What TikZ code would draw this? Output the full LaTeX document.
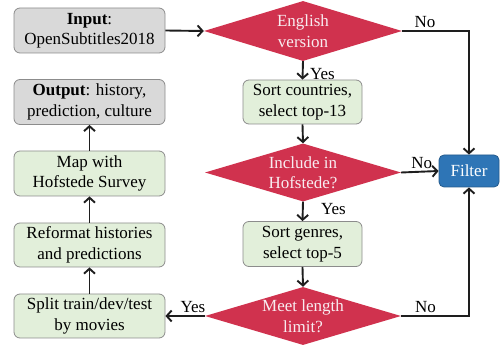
\documentclass[tikz,border=0pt]{standalone}
\usepackage{fontspec}
\setmainfont{Liberation Serif}
\usetikzlibrary{shapes.geometric,arrows.meta}
\definecolor{dred}{RGB}{208,50,78}
\definecolor{fblue}{RGB}{46,117,182}
\definecolor{fblueline}{RGB}{36,90,140}
\definecolor{gfill}{RGB}{226,239,218}
\definecolor{grayfill}{RGB}{217,217,217}
\definecolor{boxline}{RGB}{140,140,140}
\definecolor{darkline}{RGB}{30,30,30}
\definecolor{dtext}{RGB}{248,236,240}
\begin{document}
\begin{tikzpicture}[x=1pt,y=-1pt,
  txt/.style={font=\fontsize{17}{20.5}\selectfont},
  box/.style={txt, draw=boxline, rounded corners=6pt, line width=0.8pt, align=center, inner sep=0pt},
  greenbox/.style={box, fill=gfill},
  graybox/.style={box, fill=grayfill},
  dec/.style={txt, diamond, fill=dred, text=dtext, aspect=3.3, inner sep=0pt, align=center},
  filt/.style={txt, draw=fblueline, fill=fblue, text=white, rounded corners=5pt, line width=0.8pt, inner sep=0pt},
  arr/.style={-{Straight Barb[length=5pt,width=11pt]}, line width=1.9pt, draw=darkline},
  lab/.style={txt, text=black}
]
\useasboundingbox (0,0) rectangle (501,347);

\node[graybox, minimum width=151pt, minimum height=45pt] (in) at (89.5,30.5) {\textbf{Input}:\\OpenSubtitles2018};
\node[graybox, minimum width=151pt, minimum height=45pt] (out) at (89.5,102) {\textbf{Output}: history,\\prediction, culture};
\node[greenbox, minimum width=151pt, minimum height=45pt] (map) at (89.5,173.5) {Map with\\Hofstede Survey};
\node[greenbox, minimum width=151pt, minimum height=44pt] (ref) at (89.5,245) {Reformat histories\\and predictions};
\node[greenbox, minimum width=151pt, minimum height=44pt] (spl) at (89.5,316) {Split train/dev/test\\by movies};

\node[dec, minimum width=198pt, minimum height=60pt] (d1) at (303,31) {English\\version};
\node[greenbox, minimum width=119pt, minimum height=44pt] (sc) at (302.5,102) {Sort countries,\\select top-13};
\node[dec, minimum width=196pt, minimum height=58pt] (d2) at (303,172.5) {Include in\\Hofstede?};
\node[greenbox, minimum width=119pt, minimum height=45pt] (sg) at (302.5,244) {Sort genres,\\select top-5};
\node[dec, minimum width=196pt, minimum height=58pt] (d3) at (303,316) {Meet length\\limit?};
\node[filt, minimum width=60pt, minimum height=32pt] (f) at (469,171) {Filter};

\draw[arr] (in.east) -- (d1.west);
\draw[arr] (d1.south) -- node[lab, right, xshift=3pt, yshift=-4pt] {Yes} (sc.north);
\draw[arr] (d1.east) -| node[lab, pos=0.17, above, yshift=-1pt] {No} (f.north);
\draw[arr] (sc.south) -- (d2.north);
\draw[arr] (d2.east) -- node[lab, pos=0.55, above, yshift=-1pt] {No} (f.west);
\draw[arr] (d2.south) -- node[lab, right, xshift=14pt, yshift=2pt] {Yes} (sg.north);
\draw[arr] (sg.south) -- (d3.north);
\draw[arr] (d3.east) -| node[lab, pos=0.18, above, yshift=-1pt] {No} (f.south);
\draw[arr] (d3.west) -- node[lab, pos=0.3, above, yshift=-1pt] {Yes} (spl.east);
\draw[arr] (spl.north) -- (ref.south);
\draw[arr] (ref.north) -- (map.south);
\draw[arr] (map.north) -- (out.south);
\end{tikzpicture}
\end{document}
